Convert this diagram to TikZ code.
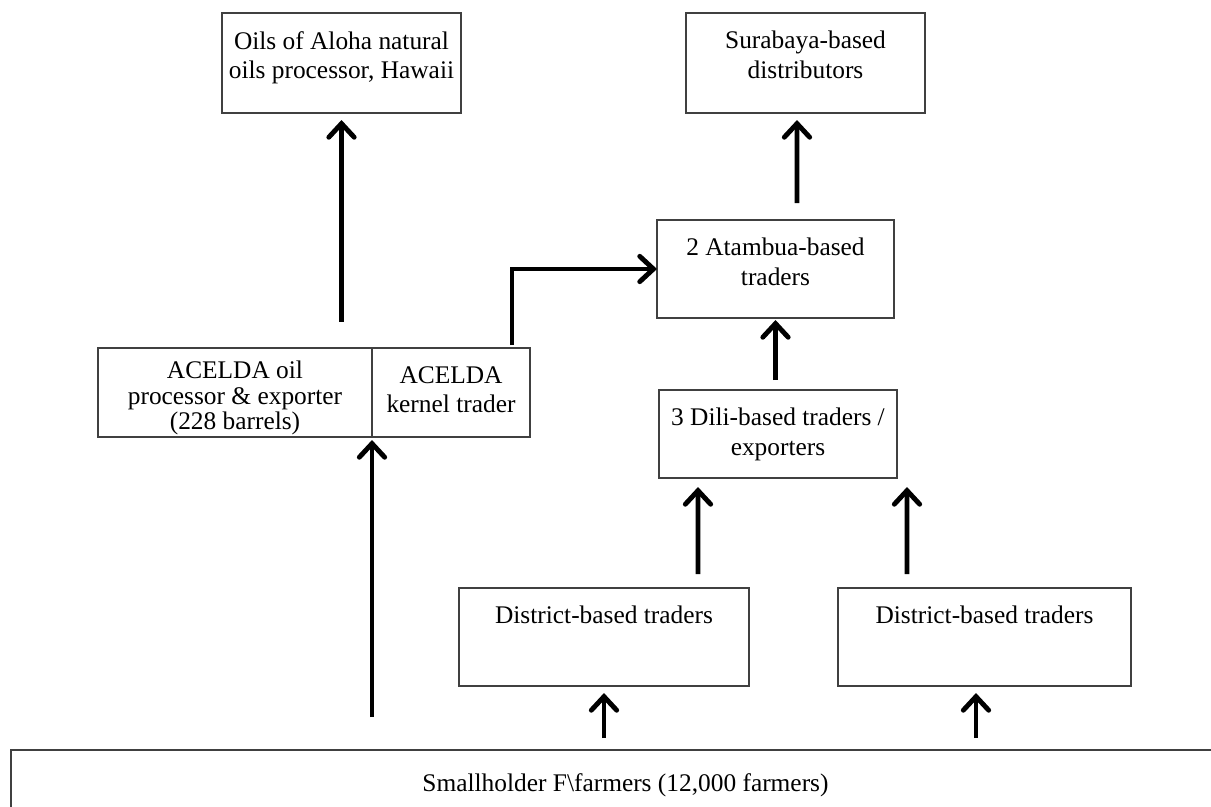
\documentclass[tikz,border=0pt]{standalone}
\usepackage{fontspec}
\setmainfont{Liberation Serif}
\usetikzlibrary{positioning}
\usetikzlibrary{arrows.meta}

\begin{document}
\begin{tikzpicture}[font=\fontsize{13pt}{15pt}\selectfont,
    box/.style 2 args={draw=black!75, line width=0.75pt, inner sep=0pt, outer sep=0pt,
      execute at begin node={\begin{minipage}[c][#2][t]{#1}\centering\vspace*{0.33cm}},
      execute at end node={\end{minipage}}},
    flow/.style={line width=2.5pt, -{Straight Barb[length=7pt,width=13pt,line cap=round]}}]
            \useasboundingbox (0,0) rectangle (21.798,-14.526);

            \node[box={4.302cm}{1.8cm}] (oils) at (6.147,-1.134) {Oils of Aloha natural\\oils processor, Hawaii};
            \node[box={4.302cm}{1.8cm}] (surabaya) at (14.499,-1.134) {Surabaya-based\\distributors};
            \node[box={4.266cm}{1.764cm}] (atambua) at (13.959,-4.842) {2 Atambua-based\\traders};
            \node[box={4.284cm}{1.584cm}] (dili) at (14.004,-7.812) {3 Dili-based traders /\\exporters};
            \node[box={4.932cm}{1.602cm}, font=\fontsize{13pt}{13pt}\selectfont] (aceldaoil) at (4.23,-7.065) {\vspace*{-0.09cm}ACELDA oil\\processor \& exporter\\(228 barrels)};
            \node[box={2.844cm}{1.602cm}, right=0pt of aceldaoil] (aceldakernel) {ACELDA\\kernel trader};
            \node[box={5.22cm}{1.764cm}] (distl) at (10.872,-11.466) {District-based traders};
            \node[box={5.274cm}{1.764cm}] (distr) at (17.721,-11.466) {District-based traders};
            \node[box={22.122cm}{1.44cm}] (farmer) at (11.259,-14.22) {\vspace*{0.1cm}Smallholder F\textbackslash farmers (12,000 farmers)\hspace*{0.92cm}};

            \draw[flow, shorten <=0.47cm, shorten >=0.126cm] (aceldaoil.north -| oils.south) -- (oils.south);
            \draw[flow, shorten <=0.054cm] ([xshift=1.098cm]aceldakernel.north) |- (atambua.west);
            \draw[flow, shorten <=0.306cm, shorten >=0.126cm] ([xshift=0.387cm]atambua.north) -- ([xshift=-0.153cm]surabaya.south);
            \draw[flow, shorten <=0.18cm, shorten >=0.036cm] (dili.north -| atambua.south) -- (atambua.south);
            \draw[flow, shorten <=0.252cm, shorten >=0.162cm] ([xshift=1.692cm]distl.north) -- ([xshift=-1.44cm]dili.south);
            \draw[flow, shorten <=0.252cm, shorten >=0.162cm] ([xshift=-1.395cm]distr.north) -- ([xshift=2.322cm]dili.south);
            \draw[flow, shorten <=0.594cm, shorten >=0.054cm] (aceldaoil.south east |- farmer.north) -- (aceldaoil.south east);
            \draw[flow, shorten <=0.216cm, shorten >=0.126cm] (farmer.north -| distl.south) -- (distl.south);
            \draw[flow, shorten <=0.216cm, shorten >=0.126cm] ([xshift=-0.153cm]distr.south |- farmer.north) -- ([xshift=-0.153cm]distr.south);
        \end{tikzpicture}
\end{document}
